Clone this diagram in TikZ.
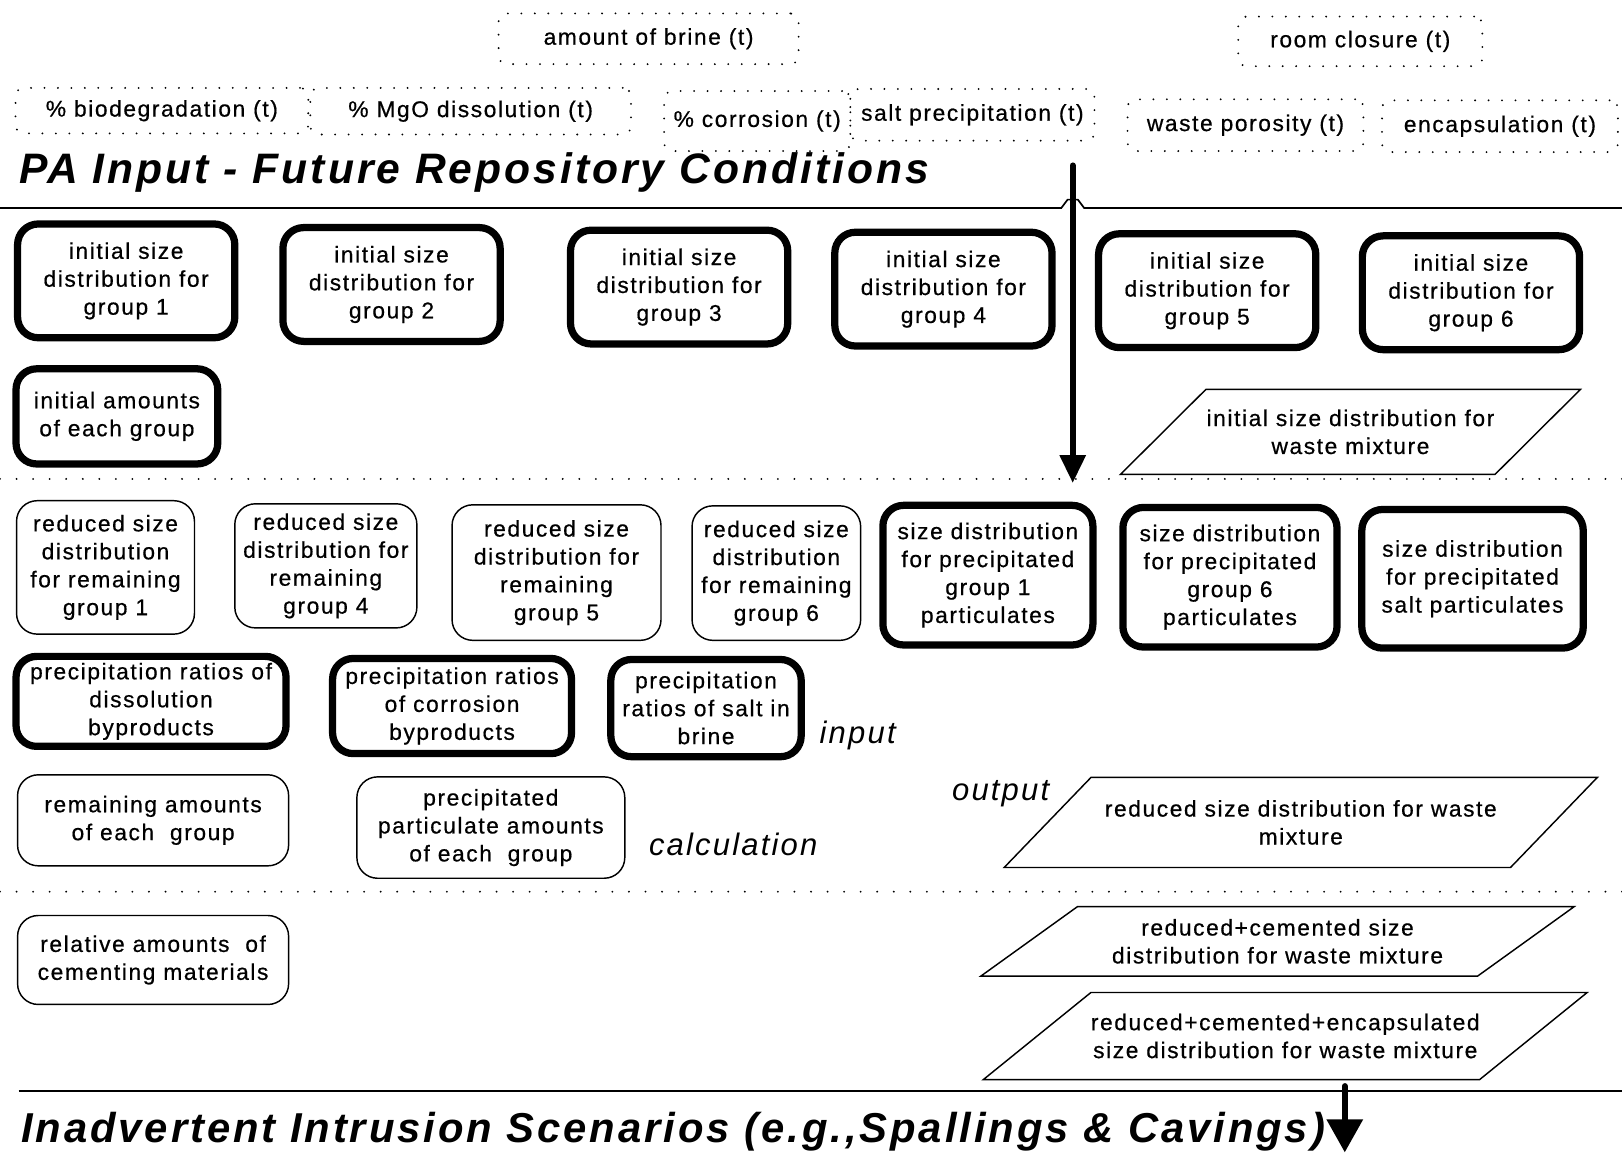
\documentclass[tikz,border=0pt]{standalone}
\usepackage{fontspec}
\setmainfont{Liberation Sans}[LetterSpace=7, UprightFeatures={FakeBold=0.6}]
\usepackage{tikz}
\usetikzlibrary{shapes.geometric,arrows.meta}

\begin{document}
\begin{tikzpicture}[x=0.5pt,y=-0.5pt,
  every node/.style={font=\fontsize{11}{13.5}\selectfont},
  heavy box/.style={draw, line width=3.5pt, rounded corners=10pt, align=center, inner sep=0pt},
  light box/.style={draw, line width=0.7pt, rounded corners=10pt, align=center, inner sep=0pt},
  cond box/.style={draw, line width=1pt, line cap=round, dash pattern=on 0pt off 6.5pt, rounded corners=4pt, inner sep=0pt},
  mixture/.style={draw, line width=0.7pt, trapezium, trapezium stretches=true, align=center, inner xsep=0pt},
  section line/.style={line width=1pt, line cap=round, dash pattern=on 0pt off 8pt},
  stage/.style={font=\fontsize{15}{18}\selectfont\itshape, anchor=west, inner sep=0pt},
  banner/.style={font=\fontsize{20.6}{24}\selectfont\bfseries\itshape, anchor=base west, inner sep=0pt}
  ]
  \useasboundingbox (0,0) rectangle (1568,1116);

  % time dependent conditions
  \node[cond box, minimum width=145pt, minimum height=24.5pt] (brine) at (627,37.5) {amount of brine (t)};
  \node[cond box, minimum width=118pt, minimum height=24pt] (closure) at (1315,40) {room closure (t)};
  \node[cond box, minimum width=141.5pt, minimum height=22pt] (biodeg) at (156.5,107) {\% biodegradation (t)};
  \node[cond box, minimum width=155pt, minimum height=22.5pt] (mgo) at (455,107.5) {\% MgO dissolution (t)};
  \node[cond box, minimum width=90pt, minimum height=29pt] (corr) at (732,117) {\% corrosion (t)};
  \node[cond box, minimum width=118pt, minimum height=25pt] (saltprec) at (940,111) {salt precipitation (t)};
  \node[cond box, minimum width=114pt, minimum height=25pt] (poros) at (1204,121) {waste porosity (t)};
  \node[cond box, minimum width=114pt, minimum height=25pt] (encap) at (1450,122) {encapsulation (t)};

  \node[banner] (paTitle) at (18,177) {PA Input - Future Repository Conditions};
  \draw[line width=0.8pt] (0,201) -- (1026,201) -- (1032,193) -- (1042,193) -- (1048,201) -- (1568,201);

  % input level
  \node[heavy box, minimum width=105pt, minimum height=55pt] (init1) at (122,271.5) {initial size\\distribution for\\group 1};
  \node[heavy box, minimum width=105pt, minimum height=55pt] (init2) at (378.5,275) {initial size\\distribution for\\group 2};
  \node[heavy box, minimum width=105pt, minimum height=55pt] (init3) at (656.5,277.5) {initial size\\distribution for\\group 3};
  \node[heavy box, minimum width=105pt, minimum height=55pt] (init4) at (912,279.5) {initial size\\distribution for\\group 4};
  \node[heavy box, minimum width=105pt, minimum height=55pt] (init5) at (1167,281) {initial size\\distribution for\\group 5};
  \node[heavy box, minimum width=105pt, minimum height=55pt] (init6) at (1422,283) {initial size\\distribution for\\group 6};
  \node[heavy box, minimum width=97.5pt, minimum height=46pt] (initAmt) at (113,402.5) {initial amounts\\of each group};
  \node[mixture, trapezium left angle=45, trapezium right angle=135, inner ysep=9.75pt, minimum width=222.5pt] (mixInit) at (1305.5,417.5) {initial size distribution for\\waste mixture};

  \coordinate (flowTop) at (1037,160);
  \coordinate (flowBot) at (1037,467);
  \draw[line width=3pt, line cap=round, -{Triangle[length=13.5pt,width=12pt]}] (flowTop) -- (flowBot);

  \draw[section line] (0,463) -- (1568,463);

  % reduction level
  \node[light box, minimum width=86pt, minimum height=64.5pt] (remain1) at (102,548.5) {reduced size\\distribution\\for remaining\\group 1};
  \node[light box, minimum width=88pt, minimum height=60pt] (remain4) at (315,547) {reduced size\\distribution for\\remaining\\group 4};
  \node[light box, minimum width=101pt, minimum height=65.5pt] (remain5) at (538,553.5) {reduced size\\distribution for\\remaining\\group 5};
  \node[light box, minimum width=81.5pt, minimum height=65pt] (remain6) at (750.5,554) {reduced size\\distribution\\for remaining\\group 6};
  \node[heavy box, minimum width=101.5pt, minimum height=67.5pt] (prec1) at (955,556) {size distribution\\for precipitated\\group 1\\particulates};
  \node[heavy box, minimum width=103.5pt, minimum height=67.5pt] (prec6) at (1189,558) {size distribution\\for precipitated\\group 6\\particulates};
  \node[heavy box, minimum width=107pt, minimum height=67pt] (precSalt) at (1423.5,559.5) {size distribution\\for precipitated\\salt particulates};

  \node[heavy box, minimum width=130.5pt, minimum height=43.5pt] (ratioDiss) at (146,678) {precipitation ratios of\\dissolution\\byproducts};
  \node[heavy box, minimum width=115.5pt, minimum height=46pt] (ratioCorr) at (437,682.5) {precipitation ratios\\of corrosion\\byproducts};
  \node[heavy box, minimum width=92pt, minimum height=47pt] (ratioSalt) at (682.5,684.5) {precipitation\\ratios of salt in\\brine};
  \node[stage] (inLabel) at (792,711) {input};

  \node[light box, minimum width=131pt, minimum height=44pt] (remainAmt) at (148,793) {remaining amounts\\of each\ \ group};
  \node[light box, minimum width=129.5pt, minimum height=49pt] (precAmt) at (474.5,800) {precipitated\\particulate amounts\\of each\ \ group};
  \node[stage] (calcLabel) at (627,816) {calculation};
  \node[stage] (outLabel) at (920,767) {output};
  \node[mixture, trapezium left angle=48, trapezium right angle=132, inner ysep=11pt, minimum width=287.5pt] (mixRed) at (1257.5,795) {reduced size distribution for waste\\mixture};

  \draw[section line] (0,862) -- (1568,862);

  % cementation and encapsulation
  \node[light box, minimum width=131pt, minimum height=43pt] (cement) at (148,928) {relative amounts\ \ of\\cementing materials};
  \node[mixture, trapezium left angle=41, trapezium right angle=139, inner ysep=6pt, minimum width=287pt] (mixCem) at (1235,910) {reduced+cemented size\\distribution for waste mixture};
  \node[mixture, trapezium left angle=39, trapezium right angle=141, inner ysep=10.25pt, minimum width=282.5pt] (mixEnc) at (1242.5,1001.5) {reduced+cemented+encapsulated\\size distribution for waste mixture};

  \draw[line width=1pt] (18,1055) -- (1568,1055);
  \coordinate (exitTop) at (1300,1050);
  \coordinate (exitBot) at (1300,1114);
  \draw[line width=3pt, line cap=round, -{Triangle[length=16pt,width=17pt]}] (exitTop) -- (exitBot);
  \node[banner, font=\fontsize{20.2}{24}\selectfont\bfseries\itshape] (intrTitle) at (20,1104) {Inadvertent Intrusion Scenarios (e.g.,Spallings \& Cavings)};
\end{tikzpicture}
\end{document}
